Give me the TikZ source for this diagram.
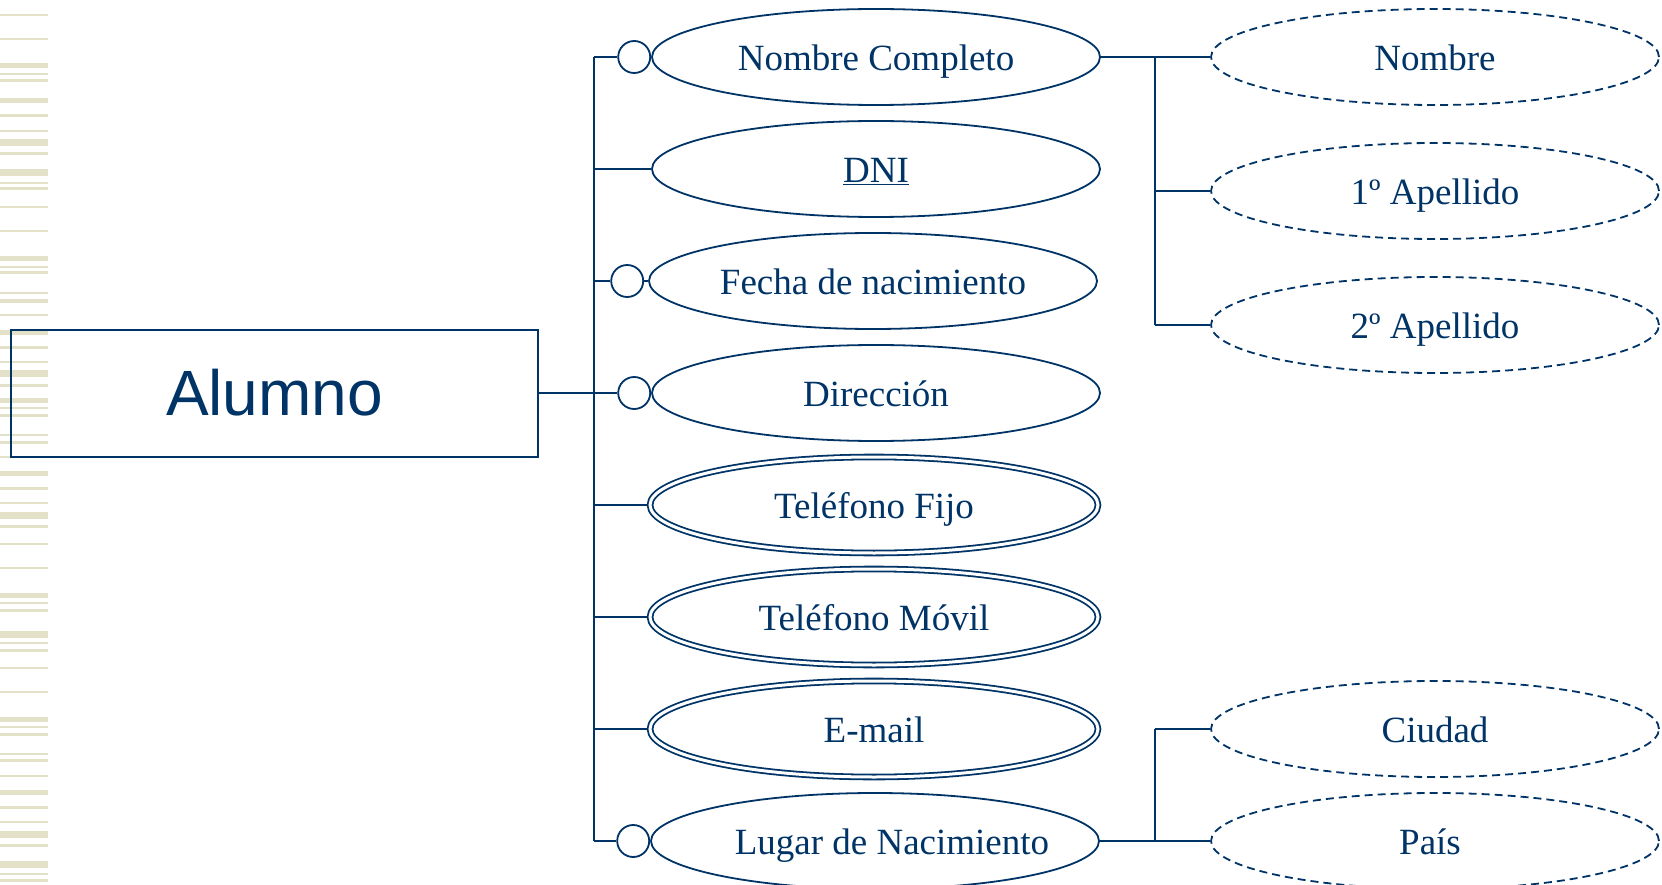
\documentclass[tikz,border=0pt]{standalone}
\usepackage{fontspec}
\setmainfont{Liberation Serif}
\newfontfamily\entfont{Liberation Sans}
\usepackage{tikz}
\usetikzlibrary{positioning}
\usetikzlibrary{shapes.geometric}
\usetikzlibrary{backgrounds}
\definecolor{erblue}{RGB}{0,51,102}
\definecolor{stripe}{RGB}{227,226,201}
\tikzset{
  attr/.style={ellipse, draw=erblue, line width=1.8pt, minimum width=448pt, minimum height=96pt,
    inner sep=0pt, text=erblue, text height=27pt, text depth=0pt, font=\fontsize{37}{44}\selectfont},
  multi/.style={attr, double, double distance=3pt, line width=1.8pt},
  comp/.style={attr, dash pattern=on 8pt off 5pt},
  opt/.style={circle, draw=erblue, line width=1.8pt, minimum size=32pt, inner sep=0pt},
  conn/.style={draw=erblue, line width=1.8pt},
}

\begin{document}
\begin{tikzpicture}[x=1pt, y=-1pt]
  \useasboundingbox (0,0) rectangle (1662,885);
  % entidad
  \node[draw=erblue, line width=2pt, minimum width=527pt, minimum height=127pt, text=erblue,
    font=\entfont\fontsize{64}{76}\selectfont] (alumno) at (274.5,393) {Alumno};
  % atributos
  \node[attr] (nombrecompleto) at (876,57) {Nombre Completo};
  \node[attr] (dni) at (876,169) {\underline{DNI}};
  \node[attr] (fecha) at (873,281) {Fecha de nacimiento};
  \node[attr] (direccion) at (876,393) {Dirección};
  \node[multi] (fijo) at (874,505) {Teléfono Fijo};
  \node[multi] (movil) at (874,617) {Teléfono Móvil};
  \node[multi] (email) at (874,729) {E-mail};
  \node[attr] (lugar) at (875,841) {\makebox[0pt]{\hspace{34pt}Lugar de Nacimiento}};
  \node[opt, left=0pt of nombrecompleto] (optnombre) {};
  \node[opt, left=4pt of fecha] (optfecha) {};
  \node[opt, left=0pt of direccion] (optdireccion) {};
  \node[opt, left=0pt of lugar] (optlugar) {};
  % componentes
  \node[comp] (nombre) at (1435,57) {Nombre};
  \node[comp] (apellido1) at (1435,191) {1º Apellido};
  \node[comp] (apellido2) at (1435,325) {2º Apellido};
  \node[comp] (ciudad) at (1435,729) {Ciudad};
  \node[comp] (pais) at (1435,841) {\makebox[0pt]{\hspace{-10pt}País}};
  \coordinate (trunktop) at (594,57);
  \coordinate (trunkbot) at (594,841);
  \coordinate (splittop) at (1155,57);
  \coordinate (splitbot) at (1155,325);
  \coordinate (lugartop) at (1155,729);
  \coordinate (lugarbot) at (1155,841);
  \begin{scope}[on background layer]
    \foreach \y/\h in {15/1.3, 39/1.3, 66/5, 74/1.3, 81/3, 101/5, 116/3, 131/1.5, 143/7, 154/3,
      173/7, 183/1.3, 189/3, 207/2, 231/2, 259/5, 267/1.3, 273/3, 293/1.3, 301/3,
      315/2, 332/5, 347/3, 362/1.5, 373/7, 385/3, 400/5, 408/1.3, 415/3, 435/1.5,
      442/3, 457/1.5, 473/5, 488/3, 503/1.5, 515/7, 526/3, 544/2, 568/2,
      595/5, 603/1.3, 610/3, 634/7, 643/1.3, 650/3, 668/2, 692/2, 719/5, 727/1.3,
      734/3, 754/1.5, 760/3, 776/2, 792/5, 807/3, 822/1.5, 834/7, 845/3, 864/7, 874/1.3, 880/3}
      \fill[stripe] (0,{\y-\h/2}) rectangle (48,{\y+\h/2});
    \draw[conn] (trunktop) -- (trunkbot);
    \draw[conn] (alumno.east) -- (alumno.east -| trunktop);
    \draw[conn] (optnombre.west) -- (optnombre.west -| trunktop);
    \draw[conn] (dni.west) -- (dni.west -| trunktop);
    \draw[conn] (optfecha.west) -- (optfecha.west -| trunktop);
    \draw[conn] (optfecha.east) -- (fecha.west);
    \draw[conn] (optdireccion.west) -- (optdireccion.west -| trunktop);
    \draw[conn] (fijo.west) -- (fijo.west -| trunktop);
    \draw[conn] (movil.west) -- (movil.west -| trunktop);
    \draw[conn] (email.west) -- (email.west -| trunktop);
    \draw[conn] (optlugar.west) -- (optlugar.west -| trunktop);
    \draw[conn] (nombrecompleto.east) -- (splittop);
    \draw[conn] (splittop) -- (splitbot);
    \draw[conn] (nombre.west) -- (nombre.west -| splittop);
    \draw[conn] (apellido1.west) -- (apellido1.west -| splittop);
    \draw[conn] (apellido2.west) -- (apellido2.west -| splittop);
    \draw[conn] (lugar.east) -- (lugarbot);
    \draw[conn] (lugartop) -- (lugarbot);
    \draw[conn] (ciudad.west) -- (ciudad.west -| lugartop);
    \draw[conn] (pais.west) -- (pais.west -| lugartop);
  \end{scope}
\end{tikzpicture}
\end{document}
